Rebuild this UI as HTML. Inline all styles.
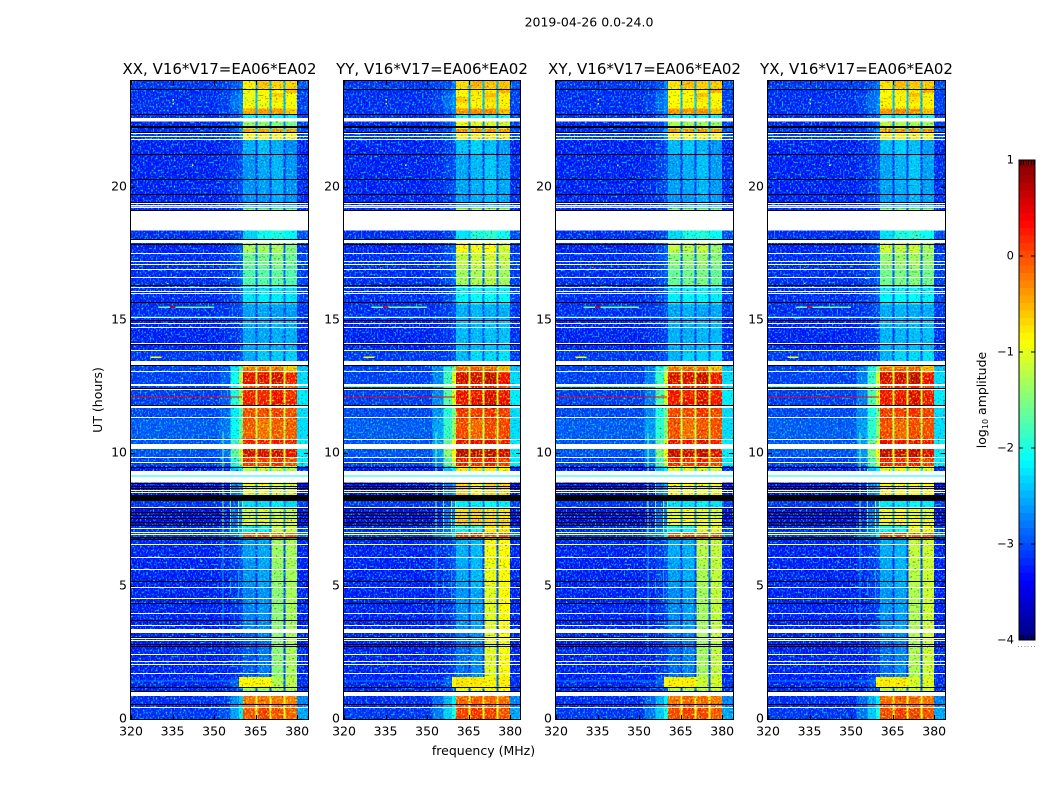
<!DOCTYPE html>
<html>
<head>
<meta charset="utf-8">
<title>2019-04-26 0.0-24.0</title>
<style>
html,body{margin:0;padding:0;background:#fff;width:1050px;height:800px;overflow:hidden}
svg{display:block;font-family:"DejaVu Sans","Liberation Sans",sans-serif;fill:#000}
</style>
</head>
<body>
<svg id="fig" xmlns="http://www.w3.org/2000/svg" width="1050" height="800" viewBox="0 0 1050 800">
<defs>
<filter id="grainLight" filterUnits="userSpaceOnUse" x="0" y="0" width="1050" height="800" color-interpolation-filters="sRGB">
<feTurbulence type="fractalNoise" baseFrequency="0.62 0.5" numOctaves="1" seed="4"/>
<feColorMatrix type="matrix" values="0 0 0 0 0  3 0 0 0 -1.45  0 0 0 0 0  0 0 0 0 1"/>
</filter>
<filter id="grainDark" filterUnits="userSpaceOnUse" x="0" y="0" width="1050" height="800" color-interpolation-filters="sRGB">
<feTurbulence type="fractalNoise" baseFrequency="0.55 0.6" numOctaves="1" seed="11"/>
<feColorMatrix type="matrix" values="0 2.4 0 0 0  0 2.4 0 0 0  0 2.4 0 0 0  0 0 0 0 1"/>
</filter>
</defs>
<text x="589" y="26.5" font-size="12.5" text-anchor="middle">2019-04-26 0.0-24.0</text>
<text x="483.5" y="755" font-size="12.5" text-anchor="middle">frequency (MHz)</text>
<text transform="translate(102,400) rotate(-90)" font-size="12.5" text-anchor="middle">UT (hours)</text>
<text transform="translate(986,400) rotate(-90)" font-size="12.5" text-anchor="middle">log<tspan font-size="8" dy="2">10</tspan><tspan dy="-2"> amplitude</tspan></text>
</svg>
<script>
// ---- chart data (log10 amplitude, hours, MHz) ----
const panelTitles = ["XX, V16*V17=EA06*EA02", "YY, V16*V17=EA06*EA02", "XY, V16*V17=EA06*EA02", "YX, V16*V17=EA06*EA02"];
const panelBandGain = [0, 0.1, 0.05, 0.08];
const panelMidGain = [0, 0.42, 0.12, 0.18];
const panelRampGain = [0, 0.25, 0.2, 0.2];
const xTickValues = [320, 335, 350, 365, 380];
const yTickValues = [0, 5, 10, 15, 20];
const colorbarTickValues = [1, 0, -1, -2, -3, -4];
const colorbarTickLabels = ["1", "0", "\u22121", "\u22122", "\u22123", "\u22124"];
// frequency bin edges: background, three ramps, then four bands with notches, then upper edge
const freqEdges = [320, 352, 356, 359, 360.5, 365, 365.7, 370, 370.7, 375, 375.7, 380, 384];
// time block edges, hours
const blockStart = [0, 0.45, 1.06, 1.21, 1.59, 3.3, 5, 5.9, 6.84, 7.03, 7.3, 7.5, 7.97, 8.42, 8.9, 9.33, 9.52, 9.84, 10.33, 10.5, 11.3, 11.8, 12.1, 12.37, 12.6, 13.05, 13.27, 13.46, 13.85, 15, 15.6, 16.3, 17.0, 17.55, 18.05, 19.13, 19.2, 19.73, 20.4, 21.24, 21.8, 22.04, 22.2, 22.6, 22.76, 22.97, 23.2, 23.4, 23.55, 23.72];
const blockEnd = [0.45, 0.86, 1.21, 1.59, 3.3, 5, 5.9, 6.84, 7.03, 7.3, 7.5, 7.97, 8.2, 8.9, 9.33, 9.52, 9.84, 10.33, 10.5, 11.3, 11.8, 12.1, 12.37, 12.6, 13.05, 13.27, 13.46, 13.85, 15, 15.6, 16.3, 17.0, 17.55, 17.95, 18.36, 19.2, 19.73, 20.4, 21.24, 21.8, 22.04, 22.2, 22.6, 22.76, 22.97, 23.2, 23.4, 23.55, 23.72, 24];
// twelve levels per block, one for each frequency bin
const blockLevels = [
 [-3.2,-3.05,-2.6,-2.2, 0.02,-1.0, 0.1,-1.0, 0.05,-1.0, -0.05,-2.6],
 [-3.25,-3.15,-2.75,-2.4, -0.15,-1.0, -0.1,-1.0, -0.15,-1.0, -0.2,-2.8],
 [-3.3,-3.3,-3.15,-3.05, -1.4,-3.0, -1.4,-3.0, -1.35,-3.0, -1.3,-3.25],
 [-3.3,-3.25,-3.05,-0.85, -0.85,-0.85, -0.85,-0.85, -1.25,-3.0, -1.2,-3.25],
 [-3.3,-3.3,-3.2,-3.15, -3.0,-3.25, -2.85,-3.2, -1.45,-3.1, -1.3,-3.3],
 [-3.3,-3.3,-3.2,-3.1, -2.8,-3.2, -2.7,-3.15, -1.45,-3.05, -1.3,-3.3],
 [-3.3,-3.25,-3.15,-3.05, -2.7,-3.2, -2.6,-3.15, -1.4,-3.05, -1.3,-3.3],
 [-3.3,-3.25,-3.15,-3.0, -2.65,-3.2, -2.6,-3.15, -1.35,-3.05, -1.3,-3.3],
 [-3.15,-3.05,-2.85,-2.35, 0.0,-1.2, 0.05,-1.2, -0.15,-1.2, -0.05,-2.85],
 [-3.25,-3.15,-2.85,-2.55, -2.2,-2.8, -2.1,-2.8, -1.2,-2.7, -1.15,-3.15],
 [-3.5,-3.25,-2.85,-2.75, -1.0,-2.5, -1.0,-2.5, -1.05,-2.5, -1.05,-3.4],
 [-3.45,-3.3,-2.85,-2.85, -1.15,-2.5, -1.05,-2.5, -1.15,-2.5, -1.2,-3.45],
 [-3.2,-3.15,-3.05,-2.7, -2.3,-2.9, -2.3,-2.85, -2.2,-2.85, -2.3,-3.15],
 [-3.45,-3.35,-2.85,-2.65, -1.0,-2.4, -0.95,-2.4, -1.05,-2.4, -1.05,-3.45],
 [-3.25,-3.15,-2.95,-2.65, -1.15,-2.4, -1.15,-2.4, -1.15,-2.4, -1.2,-3.25],
 [-3.35,-3.25,-2.5,-2.2, -1.2,-2.2, -1.15,-2.2, -1.2,-2.2, -1.25,-3.25],
 [-3.15,-3.05,-1.95,-1.35, 0.2,-1.1, 0.15,-1.1, 0.25,-1.1, 0.05,-2.2],
 [-3.05,-2.9,-1.7,-1.1, 0.55,-1.0, 0.5,-1.0, 0.55,-1.0, 0.4,-2.2],
 [-3.05,-2.9,-1.85,-1.2, 0.35,-1.1, 0.35,-1.1, 0.4,-1.1, 0.25,-2.2],
 [-3.0,-2.85,-2.1,-1.6, 0.0,-1.2, -0.15,-1.2, 0.0,-1.2, 0.0,-2.3],
 [-3.1,-2.95,-2.2,-1.75, 0.07,-1.2, 0.07,-1.2, 0.15,-1.2, 0.05,-2.3],
 [-3.15,-3.0,-1.95,-1.3, 0.3,-1.1, 0.35,-1.1, 0.45,-1.1, 0.3,-2.2],
 [-3.15,-3.0,-1.95,-1.25, 0.3,-1.1, 0.25,-1.1, 0.4,-1.1, 0.25,-2.2],
 [-3.15,-3.0,-2.05,-1.45, 0.1,-1.2, 0.2,-1.2, 0.2,-1.2, 0.0,-2.3],
 [-3.15,-3.0,-2.05,-1.25, 0.45,-1.1, 0.45,-1.1, 0.55,-1.1, 0.3,-2.3],
 [-3.15,-3.0,-2.2,-1.6, -0.2,-1.2, -0.1,-1.2, -0.1,-1.2, -0.55,-2.4],
 [-3.15,-3.05,-2.8,-2.4, -1.0,-2.4, -1.0,-2.4, -1.0,-2.4, -1.0,-2.85],
 [-3.2,-3.2,-3.15,-3.05, -2.6,-3.1, -2.4,-3.05, -2.4,-3.05, -2.35,-3.2],
 [-3.3,-3.25,-3.2,-3.1, -2.6,-3.15, -2.6,-3.1, -2.55,-3.1, -2.55,-3.25],
 [-3.25,-3.2,-3.15,-3.05, -2.65,-3.1, -2.6,-3.1, -2.65,-3.05, -2.65,-3.2],
 [-3.25,-3.2,-3.1,-2.95, -2.25,-2.95, -2.2,-2.9, -2.2,-2.9, -2.25,-3.15],
 [-3.25,-3.2,-3.1,-2.95, -1.75,-2.95, -1.7,-2.9, -1.65,-2.9, -1.75,-3.15],
 [-3.25,-3.2,-3.1,-2.95, -1.6,-2.95, -1.55,-2.9, -1.5,-2.9, -1.6,-3.15],
 [-3.3,-3.25,-3.1,-2.95, -1.3,-2.95, -1.35,-2.9, -1.3,-2.9, -1.5,-3.2],
 [-3.25,-3.25,-3.15,-3.05, -2.35,-2.45, -2.05,-2.1, -2.0,-2.05, -2.15,-3.05],
 [-3.25,-3.25,-3.15,-3.05, -1.5,-3.0, -1.5,-3.0, -1.5,-3.0, -1.55,-3.25],
 [-3.3,-3.25,-3.2,-3.1, -2.75,-3.2, -2.7,-3.15, -2.6,-3.15, -2.7,-3.25],
 [-3.3,-3.25,-3.15,-3.05, -2.7,-3.2, -2.65,-3.15, -2.55,-3.15, -2.7,-3.25],
 [-3.3,-3.25,-3.15,-3.05, -2.7,-3.2, -2.6,-3.15, -2.5,-3.15, -2.7,-3.25],
 [-3.3,-3.25,-3.15,-3.05, -2.55,-3.2, -2.45,-3.15, -2.55,-3.15, -2.75,-3.3],
 [-3.15,-3.1,-2.95,-2.65, -0.9,-2.4, -0.9,-2.4, -0.9,-2.4, -0.9,-3.05],
 [-3.25,-3.15,-3.05,-2.65, -0.35,-2.2, -0.35,-2.2, -0.35,-2.2, -0.35,-3.05],
 [-3.3,-3.25,-3.1,-2.85, -1.4,-2.8, -1.45,-2.8, -1.5,-2.8, -1.55,-3.15],
 [-3.25,-3.2,-3.05,-2.85, -2.1,-2.85, -2.1,-2.85, -2.1,-2.85, -2.15,-3.15],
 [-3.25,-3.15,-3.0,-2.75, -0.4,-2.5, -0.35,-2.5, -0.35,-2.5, -0.6,-3.15],
 [-3.25,-3.15,-2.85,-2.75, -0.9,-2.5, -0.95,-2.5, -0.9,-2.5, -0.9,-3.15],
 [-3.25,-3.15,-2.9,-2.75, -1.0,-2.5, -0.9,-2.5, -0.8,-2.5, -0.9,-3.15],
 [-3.25,-3.15,-2.95,-2.8, -0.95,-2.5, -0.9,-2.5, -0.6,-2.5, -0.9,-3.15],
 [-3.25,-3.2,-3.0,-2.85, -0.95,-2.6, -0.85,-2.6, -0.85,-2.6, -0.5,-3.15],
 [-3.2,-3.15,-3.05,-2.85, -0.8,-2.5, -0.55,-2.5, -0.65,-2.5, -0.65,-3.05]
];
// thin flagged rows (white) and dead rows (black), hours
const whiteRows = [0.45, 1.74, 2.07, 2.18, 2.44, 2.97, 3.04, 3.4, 3.52, 4.0, 4.55, 4.96, 5.64, 6.09, 6.57, 6.95, 7.03, 7.19, 7.97, 8.53, 8.6, 9.68, 9.84, 10.54, 11.35, 11.72, 11.76, 12.4, 12.55, 12.6, 13.07, 13.87, 14.15, 14.74, 14.88, 15.1, 16.0, 16.1, 16.24, 16.63, 16.9, 17.1, 17.23, 17.53, 19.25, 19.4, 21.8, 21.9, 22.04];
const whiteBands = [[0.86, 1.02], [3.24, 3.34], [8.9, 9.11], [9.15, 9.33], [10.15, 10.33], [13.27, 13.46], [17.9, 18.03], [18.36, 19.1], [19.27, 19.33], [22.47, 22.6]];
const blackRows = [0.56, 1.06, 1.2, 2.74, 2.82, 3.1, 3.72, 4.36, 5.2, 6.76, 6.84, 7.29, 7.4, 7.55, 7.66, 7.78, 7.93, 8.68, 8.76, 8.87, 9.48, 11.8, 12.45, 13.32, 14.1, 15.0, 15.68, 16.3, 17.85, 18.03, 19.13, 19.43, 19.72, 20.3, 21.24, 22.06, 22.24, 22.28, 22.76, 23.7];
const blackBands = [[8.2, 8.42], [6.78, 6.84]];
// narrow-band interference rows and channels
const lineHour = [1.43, 12.1, 15.48, 15.48, 15.1, 10.24, 12.5, 13.6, 9.13];
const lineFreqStart = [320, 320, 330, 334, 320, 320, 320, 327, 320];
const lineFreqEnd = [359, 360, 350, 336, 358, 360, 360, 331, 384];
const lineLevel = [-2.7, 0.4, -1.6, 0.55, -2.4, -0.9, -1.3, -0.9, -2.1];
const linePanelMin = [0, 0, 0, 0, 0, 1, 1, 0, 0];
const channelFreq = [353, 353, 355.7, 358.6, 360, 355.7, 358.6];
const channelStart = [2.5, 7.0, 7.0, 7.0, 7.0, 4.7, 4.5];
const channelEnd = [6.9, 10.75, 9.4, 8.4, 8.4, 5.3, 5.6];
const channelLevel = [-2.6, -1.6, -1.9, -1.6, -1.6, -2.6, -2.6];
const speckFreq = [335, 335, 354, 342, 345, 333, 336, 355, 333, 343];
const speckHour = [23.15, 23.3, 21.25, 20.85, 5.95, 17.0, 16.3, 16.6, 16.4, 15.12];
const speckLevel = [-1, -1, -1, -1, -1.2, -0.2, -1, -1, -1.5, 0];

// ---- axis functions ----
const panelLeft = [131, 344, 556, 768];
const panelWidth = [177, 176, 177, 177];
const plotTop = 81, plotBottom = 719;
function xScale(p, f) { return panelLeft[p] + (f - 320) * 2.77; }
function yScale(h) { return plotBottom - h * 26.6; }
function cbarY(v) { return 256 - v * 96; }
function jet(v) {
  const t = Math.min(1, Math.max(0, (v + 4) / 5));
  const c = (x) => Math.round(255 * Math.min(1, Math.max(0, 1.5 - Math.abs(4 * t - x))));
  return 'rgb(' + c(3) + ',' + c(2) + ',' + c(1) + ')';
}
const NS = 'http://www.w3.org/2000/svg';
const fig = document.getElementById('fig');
function mk(parent, tag, attrs, text) {
  const el = document.createElementNS(NS, tag);
  for (const k in attrs) el.setAttribute(k, attrs[k]);
  if (text !== undefined) el.textContent = text;
  parent.appendChild(el);
  return el;
}

panelTitles.forEach(function (title, p) {
  const L = panelLeft[p], W = panelWidth[p], H = plotBottom - plotTop;
  const key = title.slice(0, 2).toLowerCase();
  const g = mk(fig, 'g', { style: 'isolation:isolate' });
  
  

  const t = mk(g, 'text', { x: L + W / 2, y: 74, 'font-size': 15, 'text-anchor': 'middle' }, title);
  
  

  const clip = mk(g, 'clipPath', { id: 'clip' + p });
  mk(clip, 'rect', { x: L, y: plotTop, width: W, height: H });

  const heat = mk(g, 'g', { 'clip-path': 'url(#clip' + p + ')', 'shape-rendering': 'crispEdges' });
  
  

  mk(heat, 'rect', { x: L, y: plotTop, width: W, height: H, fill: '#fff' });

  // heatmap cells
  blockLevels.forEach(function (levels, b) {
    levels.forEach(function (lv, c) {
      const isBand = c >= 4 && c <= 10 && c % 2 === 0;
      const isRamp = c >= 1 && c <= 3;
      let v = lv;
      if (isBand) v += (lv > -2 && lv <= -1) ? panelMidGain[p] : panelBandGain[p];
      if (isRamp && blockLevels[b][4] > -0.3) v += panelRampGain[p];
      const x0 = xScale(p, freqEdges[c]), x1 = xScale(p, freqEdges[c + 1]);
      const y0 = yScale(blockEnd[b]), y1 = yScale(blockStart[b]);
      const cell = mk(heat, 'rect', { x: x0, y: y0, width: x1 - x0 + 0.4, height: y1 - y0 + 0.4, fill: jet(v) });
      
      
    });
  });

  // grain of the per-pixel measurement noise
  const grainA = mk(heat, 'rect', { x: L, y: plotTop, width: W, height: H, filter: 'url(#grainLight)', style: 'mix-blend-mode:screen' });
  
  
  const grainB = mk(heat, 'rect', { x: L, y: plotTop, width: W, height: H, filter: 'url(#grainDark)', style: 'mix-blend-mode:multiply' });
  
  

  // interference channels
  channelFreq.forEach(function (f, i) {
    const m = mk(heat, 'rect', { x: xScale(p, f), y: yScale(channelEnd[i]), width: 1, height: yScale(channelStart[i]) - yScale(channelEnd[i]), fill: jet(channelLevel[i]) });
    
    
  });
  lineHour.forEach(function (h, i) {
    if (p < linePanelMin[i]) return;
    const m = mk(heat, 'rect', { x: xScale(p, lineFreqStart[i]), y: yScale(h) - 0.6, width: xScale(p, lineFreqEnd[i]) - xScale(p, lineFreqStart[i]), height: 1.2, fill: jet(lineLevel[i]) });
    
    
  });
  speckFreq.forEach(function (f, i) {
    const m = mk(heat, 'rect', { x: xScale(p, f), y: yScale(speckHour[i]), width: 1.4, height: 1.4, fill: jet(speckLevel[i]) });
    
    
  });

  // flagged and dead rows
  whiteRows.forEach(function (h) {
    const m = mk(heat, 'rect', { x: L, y: Math.round(yScale(h)), width: W, height: 1, fill: '#fff' });
    
    
  });
  whiteBands.forEach(function (r) {
    const m = mk(heat, 'rect', { x: L, y: yScale(r[1]), width: W, height: yScale(r[0]) - yScale(r[1]), fill: '#fff' });
    
    
  });
  blackRows.forEach(function (h) {
    const m = mk(heat, 'rect', { x: L, y: Math.round(yScale(h)), width: W, height: 1, fill: '#000' });
    
    
  });
  blackBands.forEach(function (r) {
    const m = mk(heat, 'rect', { x: L, y: yScale(r[1]), width: W, height: yScale(r[0]) - yScale(r[1]), fill: '#000' });
    
    
  });

  // frame and ticks
  const frame = mk(g, 'rect', { x: L - 0.5, y: plotTop - 0.5, width: W + 1, height: H + 1, fill: 'none', stroke: '#000', 'stroke-width': 1.2, 'shape-rendering': 'crispEdges' });
  
  

  xTickValues.forEach(function (f) {
    const x = Math.round(xScale(p, f)) + 0.5;
    const tk = mk(g, 'path', { d: 'M' + x + ' ' + plotBottom + 'v-4M' + x + ' ' + plotTop + 'v4', stroke: '#000', 'stroke-width': 1, fill: 'none' });
    
    
    const lb = mk(g, 'text', { x: xScale(p, f), y: 735.5, 'font-size': 12.5, 'text-anchor': 'middle' }, String(f));
    
    
  });
  yTickValues.forEach(function (h) {
    const y = Math.round(yScale(h)) + 0.5;
    const tk = mk(g, 'path', { d: 'M' + L + ' ' + y + 'h4M' + (L + W) + ' ' + y + 'h-4', stroke: '#000', 'stroke-width': 1, fill: 'none' });
    
    
    const lb = mk(g, 'text', { x: L - 4, y: yScale(h) + 3.5, 'font-size': 12.5, 'text-anchor': 'end' }, String(h));
    
    
  });
});

// colorbar
const cb = mk(fig, 'g', { 'shape-rendering': 'crispEdges' });


for (let i = 0; i < 64; i++) {
  const v0 = -4 + i * 5 / 64, v1 = v0 + 5 / 64;
  const s = mk(cb, 'rect', { x: 1019, y: cbarY(v1), width: 16, height: cbarY(v0) - cbarY(v1) + 0.5, fill: jet((v0 + v1) / 2) });
  
  
}
const cbFrame = mk(cb, 'rect', { x: 1019, y: 160, width: 16, height: 480, fill: 'none', stroke: '#000', 'stroke-width': 1 });


colorbarTickValues.forEach(function (v, i) {
  const y = cbarY(v);
  const tk = mk(cb, 'path', { d: 'M1019 ' + y + 'h4M1035 ' + y + 'h-4', stroke: '#000', 'stroke-width': 1, fill: 'none' });
  
  
  const lb = mk(fig, 'text', { x: 1014, y: y + 3.5, 'font-size': 11.5, 'text-anchor': 'end' }, colorbarTickLabels[i]);
  
  
});
for (let k = 0; k < 6; k++) {
  const x = 1021 + k * 2.6;
  const tk = mk(cb, 'path', { d: 'M' + x + ' 160v5M' + x + ' 640v-5', stroke: '#000', 'stroke-width': 0.8, fill: 'none' });
  
  
  const dot = mk(cb, 'rect', { x: 1018 + k * 3.2, y: 646, width: 1, height: 1, fill: '#888' });
  
  
}
</script>
</body>
</html>
